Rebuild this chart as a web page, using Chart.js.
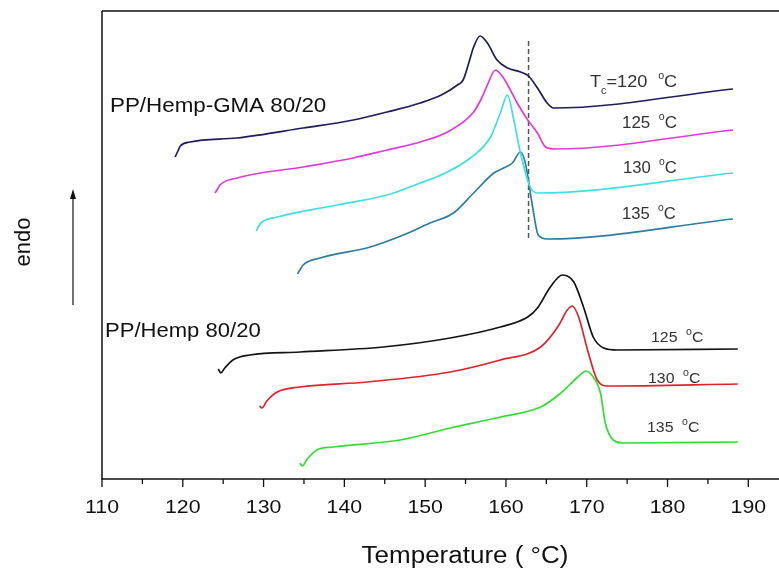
<!DOCTYPE html>
<html>
<head>
<meta charset="utf-8">
<script src="https://cdn.jsdelivr.net/npm/chart.js@4/dist/chart.umd.min.js"></script>
<style>
  html, body { margin: 0; padding: 0; background: #fff; }
</style>
</head>
<body>
<canvas id="dsc" width="779" height="570"></canvas>
<script>
// Temperature (°C) and heat flow (arbitrary units, endo up)
const gma120T = [119.05, 119.4, 119.7, 120.9, 126.7, 134.9, 141.1, 145.3, 149.4, 152.0, 154.0, 154.7, 155.4, 156.0, 156.8, 157.7, 158.9, 160.2, 161.8, 162.8, 163.9, 165.1, 165.9, 188.1];
const gma120H = [322, 328, 333, 337, 341, 351, 359, 367, 376, 384, 394, 399, 416, 432, 443, 436, 419, 411, 407, 403, 391, 376, 371, 390];

const gma125T = [124.0, 124.3, 124.6, 126.7, 134.9, 141.1, 145.3, 149.4, 153.0, 156.0, 157.0, 157.7, 158.7, 159.7, 161.4, 162.7, 163.9, 164.9, 166.1, 188.1];
const gma125H = [286, 290, 294, 301, 312, 321, 329, 337, 348, 367, 381, 394, 409, 401, 376, 359, 346, 332, 330, 349];

const gma130T = [129.1, 129.4, 129.8, 131.7, 139.1, 145.3, 149.4, 152.5, 155.6, 158.1, 159.3, 160.2, 160.9, 161.8, 163.0, 163.9, 188.1];
const gma130H = [248, 253, 257, 262, 274, 284, 296, 306, 321, 342, 366, 384, 362, 326, 292, 286, 306];

const gma135T = [134.2, 134.5, 134.9, 137.0, 143.2, 147.3, 150.6, 153.5, 156.0, 158.5, 159.7, 160.8, 161.8, 162.4, 163.3, 164.0, 165.1, 188.1];
const gma135H = [205, 209, 214, 221, 232, 244, 256, 266, 286, 306, 311, 316, 327, 316, 272, 244, 240, 260];

const pp125T = [124.4, 124.7, 125.2, 126.2, 128.3, 134.5, 144.8, 153.1, 159.3, 162.7, 163.9, 165.5, 167.0, 168.4, 169.6, 170.8, 172.1, 173.8, 188.7];
const pp125H = [110, 106, 111, 119, 124, 127, 132, 141, 152, 162, 171, 192, 204, 197, 172, 142, 131, 129, 130];

const pp130T = [129.5, 129.8, 130.4, 131.7, 134.5, 142.8, 153.1, 159.3, 164.3, 166.4, 167.6, 168.2, 169.0, 170.1, 171.3, 172.6, 188.7];
const pp130H = [73, 71, 78, 87, 92, 97, 107, 119, 132, 152, 169, 173, 162, 129, 99, 93, 95];

const pp135T = [134.5, 134.8, 135.4, 136.6, 138.6, 146.9, 153.1, 159.3, 164.3, 166.8, 168.9, 169.9, 170.8, 171.7, 172.3, 173.3, 174.6, 188.7];
const pp135H = [16, 13, 20, 29, 32, 39, 51, 62, 72, 86, 102, 108, 102, 86, 56, 39, 36, 37];

// dashed marker line
const markerT = [162.8, 162.8];
const markerH = [438, 239];

const xTicks = [110, 120, 130, 140, 150, 160, 170, 180, 190];
const xMinorTicks = [115, 125, 135, 145, 155, 165, 175, 185];

const toPoints = (t, h) => t.map((v, i) => ({ x: v, y: h[i] }));

const curve = (t, h, color) => ({
  data: toPoints(t, h),
  borderColor: color,
  borderWidth: 1.7,
  pointRadius: 0,
  cubicInterpolationMode: 'monotone',
  fill: false
});

const FONT = 'Arial, "Liberation Sans", sans-serif';

// the original text is a little wider than Arial, so stretch it horizontally
function stretchText(ctx, text, x, y, size, sx, align) {
  ctx.save();
  ctx.font = size + 'px ' + FONT;
  ctx.textAlign = align;
  ctx.translate(x, y);
  ctx.scale(sx, 1);
  ctx.fillText(text, 0, 0);
  ctx.restore();
}

// text drawn as runs so the degree sign / subscript sit like the original
function drawRuns(ctx, x, y, runs, sx) {
  ctx.save();
  ctx.translate(x, y);
  ctx.scale(sx, 1);
  ctx.textAlign = 'left';
  let cx = 0;
  runs.forEach(r => {
    ctx.font = r.size + 'px ' + FONT;
    ctx.fillText(r.t, cx, r.dy || 0);
    cx += ctx.measureText(r.t).width + (r.gap || 0);
  });
  ctx.restore();
}

const tempLabel = (num, size) => [
  { t: num, size: size, gap: 8 },
  { t: 'o', size: 10, dy: -size * 0.5 },
  { t: 'C', size: size }
];

const frame = {
  id: 'frame',
  afterDraw(chart) {
    const { ctx, chartArea: a, scales: { x } } = chart;
    ctx.save();

    // frame
    ctx.strokeStyle = '#4a4a4a';
    ctx.lineWidth = 2;
    ctx.beginPath();
    ctx.moveTo(a.left, a.top);
    ctx.lineTo(a.right, a.top);
    ctx.stroke();

    ctx.strokeStyle = '#111';
    ctx.lineWidth = 1.5;
    ctx.beginPath();
    ctx.moveTo(a.left, a.top);
    ctx.lineTo(a.left, a.bottom);
    ctx.lineTo(a.right, a.bottom);
    ctx.stroke();

    // ticks
    ctx.lineWidth = 1.3;
    xTicks.forEach(t => {
      const px = x.getPixelForValue(t);
      ctx.beginPath();
      ctx.moveTo(px, a.bottom);
      ctx.lineTo(px, a.bottom + 8);
      ctx.stroke();
    });
    xMinorTicks.forEach(t => {
      const px = x.getPixelForValue(t);
      ctx.beginPath();
      ctx.moveTo(px, a.bottom);
      ctx.lineTo(px, a.bottom + 5);
      ctx.stroke();
    });

    ctx.fillStyle = '#111';
    ctx.textBaseline = 'alphabetic';
    xTicks.forEach(t => {
      stretchText(ctx, String(t), x.getPixelForValue(t), a.bottom + 34, 19, 1.12, 'center');
    });

    // axis title
    stretchText(ctx, 'Temperature ( °C)', 465, 563, 23, 1.13, 'center');

    // endo label + arrow
    ctx.save();
    ctx.translate(30, 242);
    ctx.rotate(-Math.PI / 2);
    ctx.font = '22px ' + FONT;
    ctx.textAlign = 'center';
    ctx.fillText('endo', 0, 0);
    ctx.restore();

    ctx.strokeStyle = '#111';
    ctx.lineWidth = 1.2;
    ctx.beginPath();
    ctx.moveTo(73, 305);
    ctx.lineTo(73, 196);
    ctx.stroke();
    ctx.beginPath();
    ctx.moveTo(73, 189);
    ctx.lineTo(70, 199);
    ctx.lineTo(76, 199);
    ctx.closePath();
    ctx.fill();

    // group labels
    stretchText(ctx, 'PP/Hemp-GMA 80/20', 110, 112, 21, 1.065, 'left');
    stretchText(ctx, 'PP/Hemp 80/20', 105, 337, 21, 1.05, 'left');

    // curve labels
    ctx.fillStyle = '#333';
    drawRuns(ctx, 590, 87, [
      { t: 'T', size: 17 },
      { t: 'c', size: 10, dy: 7 },
      { t: '=120', size: 17, gap: 10 },
      { t: 'o', size: 10, dy: -8 },
      { t: 'C', size: 17 }
    ], 1.07);
    drawRuns(ctx, 622, 128, tempLabel('125', 16), 1.06);
    drawRuns(ctx, 623, 173, tempLabel('130', 16), 1.04);
    drawRuns(ctx, 622, 219, tempLabel('135', 16), 1.04);

    drawRuns(ctx, 651, 342, tempLabel('125', 15), 1.06);
    drawRuns(ctx, 648, 383, tempLabel('130', 15), 1.06);
    drawRuns(ctx, 647, 432, tempLabel('135', 15), 1.06);

    ctx.restore();
  }
};

new Chart(document.getElementById('dsc'), {
  type: 'line',
  data: {
    datasets: [
      curve(gma120T, gma120H, '#1f1c5c'),
      curve(gma125T, gma125H, '#e03ad8'),
      curve(gma130T, gma130H, '#3ee0e0'),
      curve(gma135T, gma135H, '#2f7d9e'),
      curve(pp125T, pp125H, '#141414'),
      curve(pp130T, pp130H, '#e0222a'),
      curve(pp135T, pp135H, '#33dd33'),
      {
        data: toPoints(markerT, markerH),
        borderColor: '#555',
        borderWidth: 1.5,
        borderDash: [5, 3],
        pointRadius: 0,
        fill: false
      }
    ]
  },
  options: {
    responsive: false,
    animation: false,
    layout: { padding: { left: 102, top: 11, right: 0, bottom: 91 } },
    plugins: { legend: { display: false }, tooltip: { enabled: false } },
    scales: {
      x: { type: 'linear', min: 110, max: 193.8, display: false },
      y: { type: 'linear', min: 0, max: 468, display: false }
    }
  },
  plugins: [frame]
});
</script>
</body>
</html>
